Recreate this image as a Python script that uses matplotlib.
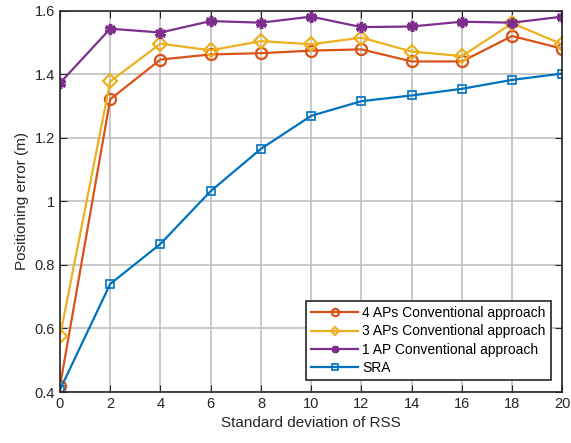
import matplotlib.pyplot as plt

plt.rcParams['font.family'] = ['Liberation Sans', 'DejaVu Sans']

# standard deviation of RSS
std_rss = [0, 2, 4, 6, 8, 10, 12, 14, 16, 18, 20]

# positioning error (m)
err_4aps = [0.418, 1.321, 1.446, 1.462, 1.466, 1.474, 1.478, 1.440, 1.440, 1.520, 1.480]
err_3aps = [0.575, 1.377, 1.496, 1.475, 1.504, 1.494, 1.515, 1.471, 1.457, 1.560, 1.494]
err_1ap = [1.372, 1.543, 1.531, 1.567, 1.562, 1.581, 1.548, 1.550, 1.565, 1.562, 1.581]
err_sra = [0.407, 0.740, 0.866, 1.032, 1.165, 1.269, 1.315, 1.333, 1.354, 1.382, 1.402]

labels = ['4 APs Conventional approach', '3 APs Conventional approach',
          '1 AP Conventional approach', 'SRA']

fig = plt.figure(figsize=(5.71, 4.43), dpi=100)
ax = fig.add_axes([0.105, 0.1151, 0.880, 0.861])

ax.plot(std_rss, err_4aps, color='#D95319', lw=1.6, marker='o', ms=8,
        mfc='none', mew=1.6, label=labels[0])
ax.plot(std_rss, err_3aps, color='#EDB120', lw=1.6, marker='D', ms=7,
        mfc='none', mew=1.6, label=labels[1])
ax.plot(std_rss, err_1ap, color='#7E2F8E', lw=1.6, marker=(6, 2, 0), ms=8,
        mew=2.5, label=labels[2])
ax.plot(std_rss, err_sra, color='#0072BD', lw=1.6, marker='s', ms=6,
        mfc='none', mew=1.2, label=labels[3])

ax.set_xlim(0, 20)
ax.set_ylim(0.4, 1.6)
ax.set_xticks(range(0, 21, 2))
ax.set_yticks([0.4, 0.6, 0.8, 1.0, 1.2, 1.4, 1.6])
ax.set_yticklabels(['0.4', '0.6', '0.8', '1', '1.2', '1.4', '1.6'])
ax.tick_params(direction='in', top=True, right=True, labelsize=10.5,
               colors='#262626', length=5)
ax.grid(True, color='#bcbcbc', lw=1.4, alpha=0.8)
for s in ax.spines.values():
    s.set_color('#262626')
    s.set_linewidth(1.2)

ax.set_xlabel('Standard deviation of RSS', fontsize=11, color='#262626')
ax.set_ylabel('Positioning error (m)', fontsize=11, color='#262626')

leg = ax.legend(loc='lower right', fontsize=10, handlelength=3.4,
                markerscale=0.65, fancybox=False, framealpha=1,
                edgecolor='#262626', borderaxespad=0.85, labelspacing=0.32,
                handletextpad=0.3, borderpad=0.35)
leg.get_frame().set_linewidth(1.2)

fig.savefig('out.png', dpi=100)
